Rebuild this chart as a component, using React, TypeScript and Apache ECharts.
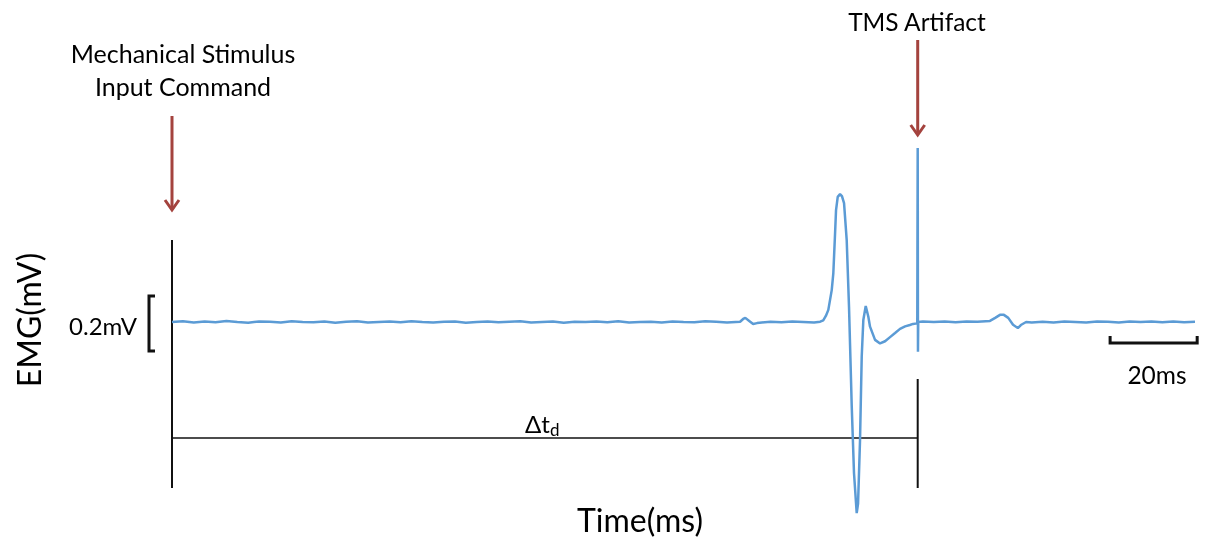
import React, { useEffect, useRef } from "react";
import * as echarts from "echarts";

// Time axis (ms) and EMG amplitude (mV)
const timeMs: number[] = [
  0, 2.5, 5, 7.5, 10, 12.5, 15, 17.5, 20, 22.5, 25, 27.5, 30, 32.5, 35, 37.5, 40, 42.5, 45, 47.5,
  50, 52.5, 55, 57.5, 60, 62.5, 65, 67.5, 70, 72.5, 75, 77.5, 80, 82.5, 85, 87.5, 90, 92.5, 95, 97.5,
  100, 102.5, 105, 107.5, 110, 112.5, 115, 117.5, 120, 122.5, 125, 127.5,
  130.5, 131.2, 131.7, 132.6, 133.5, 134.4, 135.5, 137.5, 140, 142.5, 145, 147.5,
  148.9, 149.6, 150.2, 150.77, 151.55, 151.92, 152.31, 152.54, 152.93, 153.46, 153.9,
  154.38, 154.99, 155.52, 156.15, 156.67, 157.29, 157.6, 158.05, 158.44, 158.81, 159.36,
  159.96, 160.35, 161.5, 162.65, 163.8, 164.95, 166.1, 167.24, 168.4, 169.5, 170.23,
  171.2, 171.3, 171.36, 171.42, 172.5, 175, 177.5, 180, 182.5, 185,
  187.9, 189.1, 190.2, 191.1, 192.1, 193.2, 194.3, 195.0, 196.2, 197.5,
  200, 202.5, 205, 207.5, 210, 212.5, 215, 217.5, 220, 222.5, 225, 227.5, 230, 232.5, 235,
];
const emgMv: number[] = [
  0, 0.003, -0.002, 0.002, -0.001, 0.004, 0, -0.003, 0.002, 0.001, -0.002, 0.003, 0, -0.001, 0.002, -0.003, 0.001, 0.003, -0.002, 0,
  0.002, -0.001, 0.003, 0, -0.002, 0.001, 0.002, -0.003, 0, 0.002, -0.001, 0.001, 0.003, -0.002, 0, 0.002, -0.003, 0.001, 0, 0.002,
  -0.001, 0.003, -0.002, 0, 0.001, -0.002, 0.002, 0, -0.001, 0.003, 0.001, -0.002,
  0.001, 0.011, 0.015, 0.004, -0.007, -0.004, -0.002, 0.001, -0.001, 0.002, 0, -0.002,
  0.001, 0.006, 0.022, 0.044, 0.116, 0.178, 0.32, 0.407, 0.455, 0.465, 0.458,
  0.432, 0.298, 0.056, -0.308, -0.55, -0.695, -0.66, -0.43, -0.126, 0.007, 0.058,
  0.019, -0.017, -0.065, -0.078, -0.07, -0.055, -0.04, -0.025, -0.016, -0.011, -0.007,
  -0.005, 0.633, -0.108, 0, 0.002, 0, 0.002, -0.001, 0.002, 0.001,
  0.004, 0.015, 0.026, 0.026, 0.015, -0.01, -0.022, -0.011, 0, -0.002,
  0.001, -0.002, 0.002, 0, -0.002, 0.002, 0.001, -0.002, 0.002, 0, 0.002, -0.001, 0.002, -0.001, 0.001,
];

const STIM_MS = 0;
const TMS_MS = 171.3;
const SCALE_BAR_START_MS = 215.5;
const SCALE_BAR_MS = 20;
const SCALE_BAR_MV = 0.2;

const FONT = "Lato";
const ARROW = "#a4433e";

export default function App() {
  const ref = useRef<HTMLDivElement>(null);
  useEffect(() => {
    const chart = echarts.init(ref.current!, null, { renderer: "svg" });
    chart.setOption({
      animation: false,
      grid: { left: 172, right: 13, top: 115.75, bottom: 11.75 },
      xAxis: { type: "value", min: 0, max: 235, show: false },
      yAxis: { type: "value", min: -0.75, max: 0.75, show: false },
      series: [
        {
          type: "line",
          data: timeMs.map((t, i) => [t, emgMv[i]]),
          showSymbol: false,
          clip: false,
          lineStyle: { color: "#5b9bd5", width: 2.5 },
        },
      ],
    });
    const px = (t: number, v: number) => chart.convertToPixel({ gridIndex: 0 }, [t, v]) as number[];
    const xStim = px(STIM_MS, 0)[0];
    const xTms = px(TMS_MS, 0)[0];
    const yTop = px(0, SCALE_BAR_MV / 2 - 0.005)[1];
    const yBot = px(0, -SCALE_BAR_MV / 2 - 0.005)[1];
    const xb1 = px(SCALE_BAR_START_MS, 0)[0];
    const xb2 = px(SCALE_BAR_START_MS + SCALE_BAR_MS, 0)[0];
    const black = { stroke: "#111", lineWidth: 2 };
    const arrow = (x: number, y1: number, y2: number) => [
      { type: "line", shape: { x1: x, y1, x2: x, y2: y2 - 1 }, style: { stroke: ARROW, lineWidth: 3 } },
      {
        type: "polyline",
        shape: { points: [[x - 7, y2 - 10], [x, y2], [x + 7, y2 - 10]] },
        style: { stroke: ARROW, lineWidth: 3, fill: "none" },
      },
    ];
    const txt = (x: number, y: number, text: string, size: number, align = "center") => ({
      type: "text",
      x,
      y,
      style: { text, font: `${size}px ${FONT}`, fill: "#000", align, verticalAlign: "middle" },
    });
    chart.setOption({
      graphic: [
        { type: "line", shape: { x1: xStim, y1: 240, x2: xStim, y2: 488 }, style: black },
        { type: "line", shape: { x1: xTms, y1: 379, x2: xTms, y2: 488 }, style: black },
        { type: "line", shape: { x1: xStim, y1: 438, x2: xTms, y2: 438 }, style: { stroke: "#111", lineWidth: 1.5 } },
        ...arrow(xStim, 116, 210),
        ...arrow(xTms, 40, 135),
        {
          type: "polyline",
          shape: { points: [[155, yTop], [149, yTop], [149, yBot], [155, yBot]] },
          style: { stroke: "#111", lineWidth: 3, fill: "none" },
        },
        {
          type: "polyline",
          shape: { points: [[xb1, 336], [xb1, 343], [xb2, 343], [xb2, 336]] },
          style: { stroke: "#111", lineWidth: 3, fill: "none" },
        },
        txt(183, 53, "Mechanical Stimulus", 25),
        txt(183, 86, "Input Command", 25),
        txt(917, 21, "TMS Artifact", 24.5),
        txt(640, 519, "Time(ms)", 32),
        txt(137, 325, "0.2mV", 24, "right"),
        txt(1157, 374, "20ms", 24.5),
        {
          type: "text",
          x: 28,
          y: 320,
          rotation: Math.PI / 2,
          style: { text: "EMG(mV)", font: `32px ${FONT}`, fill: "#000", align: "center", verticalAlign: "middle" },
        },
        {
          type: "text",
          x: 525,
          y: 423,
          style: {
            text: "{a|Δt}{b|d}",
            align: "left",
            verticalAlign: "middle",
            rich: {
              a: { fontFamily: FONT, fontSize: 24, color: "#000" },
              b: { fontFamily: FONT, fontSize: 17, color: "#000", padding: [12, 0, 0, 0] },
            },
          },
        },
      ],
    });
    return () => chart.dispose();
  }, []);
  return <div ref={ref} style={{ position: "fixed", left: 0, top: 0, width: 1208, height: 540 }} />;
}
